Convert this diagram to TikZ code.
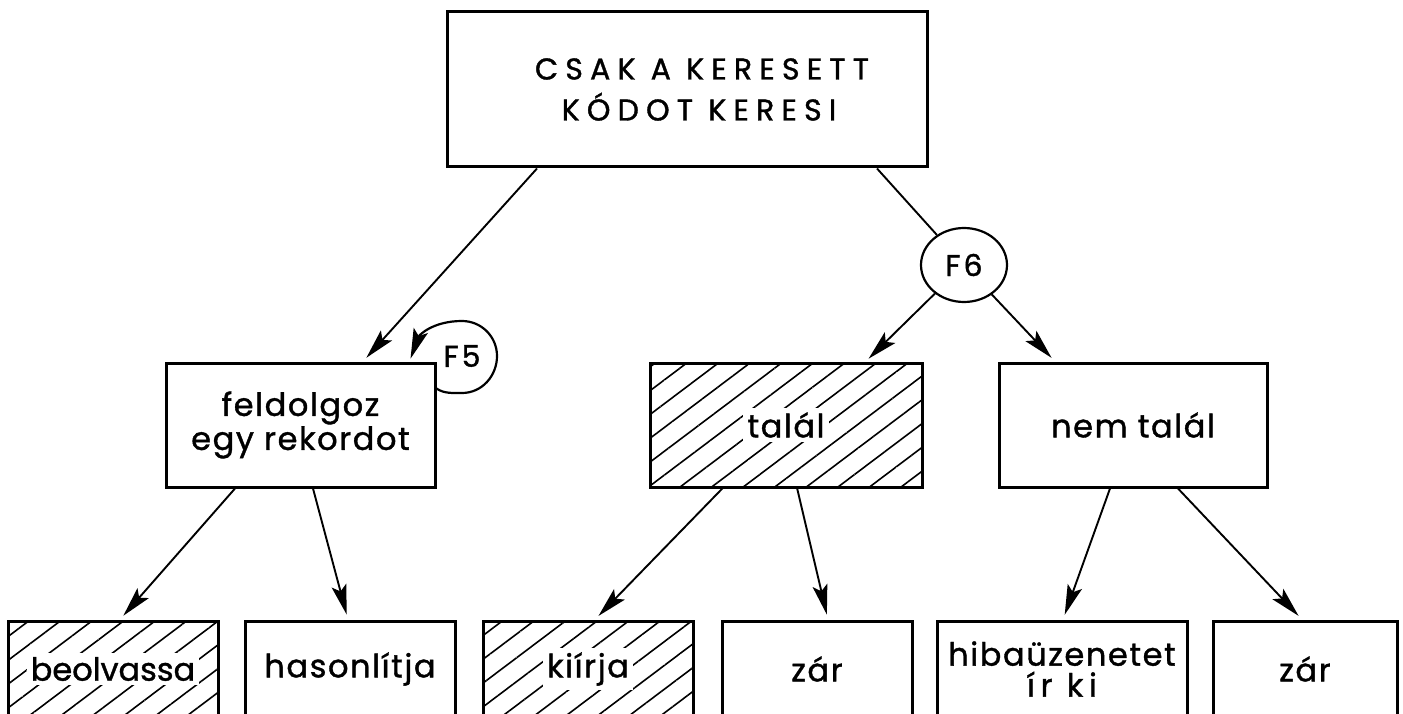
\documentclass[tikz,border=0pt]{standalone}
\usepackage{fontspec}
\setmainfont{Poppins}[LetterSpace=5,FakeBold=1.2]
\newfontfamily\capsfont{Poppins}[LetterSpace=24,FakeBold=1.2]
\usetikzlibrary{arrows.meta,patterns.meta,shapes.geometric}

\begin{document}
\begin{tikzpicture}[x=1pt,y=1pt,
  box/.style={draw,line width=3pt,inner sep=0pt,align=center,
    font=\fontsize{32}{34}\selectfont},
  lowbox/.style={box,minimum height=96pt,font=\fontsize{32}{29}\selectfont},
  hatch/.style={pattern={Lines[angle=37,distance=19pt,line width=1.6pt]}},
  arr/.style={-{Stealth[length=30pt,width=15pt,inset=6pt]},line width=1.9pt,shorten >=5pt},
  fkey/.style={draw,line width=2.2pt,ellipse,inner sep=0pt,
    font=\fontsize{30}{32}\selectfont\addfontfeature{LetterSpace=10}},
]
\useasboundingbox (0,0) rectangle (1403,-714);
\clip (0,0) rectangle (1403,-714);
\setlength{\fboxsep}{4pt}

% top task
\node[box,minimum width=480pt,minimum height=155pt,
  font=\capsfont\fontsize{30}{41}\selectfont] (top) at (687,-89.5)
  {\hspace*{30pt}CSAK A KERESETT\\\hspace*{24pt}KÓDOT KERESI};

% second level
\node[box,minimum width=269pt,minimum height=124pt] (feld) at (300.5,-425)
  {feldolgoz\\egy rekordot};
\node[box,hatch,minimum width=272pt,minimum height=124pt] (tal) at (786,-425)
  {\colorbox{white}{talál}};
\node[box,minimum width=268pt,minimum height=124pt] (nem) at (1133,-425)
  {nem talál};

% selector circles
\node[fkey,minimum width=86pt,minimum height=74pt] (f6) at (964,-265) {F6};
\node[fkey,draw=none] (f5) at (462,-356) {F5};

% third level
\node[lowbox,hatch,minimum width=210pt] (beol) at (113,-669)
  {\colorbox{white}{\addfontfeature{LetterSpace=0}beolvassa}};
\node[lowbox,minimum width=210pt] (has) at (350,-669) {hasonlítja};
\node[lowbox,hatch,minimum width=210pt] (kii) at (588,-669)
  {\colorbox{white}{kiírja}};
\node[lowbox,minimum width=190pt] (zar1) at (817,-669) {zár};
\node[lowbox,minimum width=250pt,font=\fontsize{32}{31}\selectfont] (hiba) at (1062,-669)
  {hibaüzenetet\\\addfontfeature{LetterSpace=18}ír ki};
\node[lowbox,minimum width=184pt] (zar2) at (1305,-669) {zár};

% connectors
\draw[arr] ([xshift=-150pt]top.south) -- ([xshift=62.5pt]feld.north);
\draw[line width=1.9pt] ([xshift=190pt]top.south) -- (f6);
\draw[arr] (f6) -- ([xshift=79pt]tal.north);
\draw[arr] (f6) -- ([xshift=-78pt]nem.north);

\draw[arr] ([xshift=-65.5pt]feld.south) -- ([xshift=7pt]beol.north);
\draw[arr] ([xshift=12.5pt]feld.south) -- ([xshift=-2pt]has.north);
\draw[arr] ([xshift=-63pt]tal.south) -- ([xshift=7pt]kii.north);
\draw[arr] ([xshift=11pt]tal.south) -- ([xshift=11pt]zar1.north);
\draw[arr] ([xshift=-23pt]nem.south) -- ([xshift=1pt]hiba.north);
\draw[arr] ([xshift=45pt]nem.south) -- ([xshift=-3pt]zar2.north);

% F5 loop back onto the record step
\draw[arr,line width=2.2pt,shorten >=3pt] ([yshift=-27pt]feld.north east)
  to[out=-35,in=180,looseness=0.9] ([yshift=-37pt]f5.center)
  to[out=0,in=-90] ([xshift=35pt]f5.center)
  to[out=90,in=0] ([yshift=35pt]f5.center)
  to[out=180,in=70,looseness=1.1] ([xshift=-27pt]feld.north east);
\end{tikzpicture}
\end{document}
